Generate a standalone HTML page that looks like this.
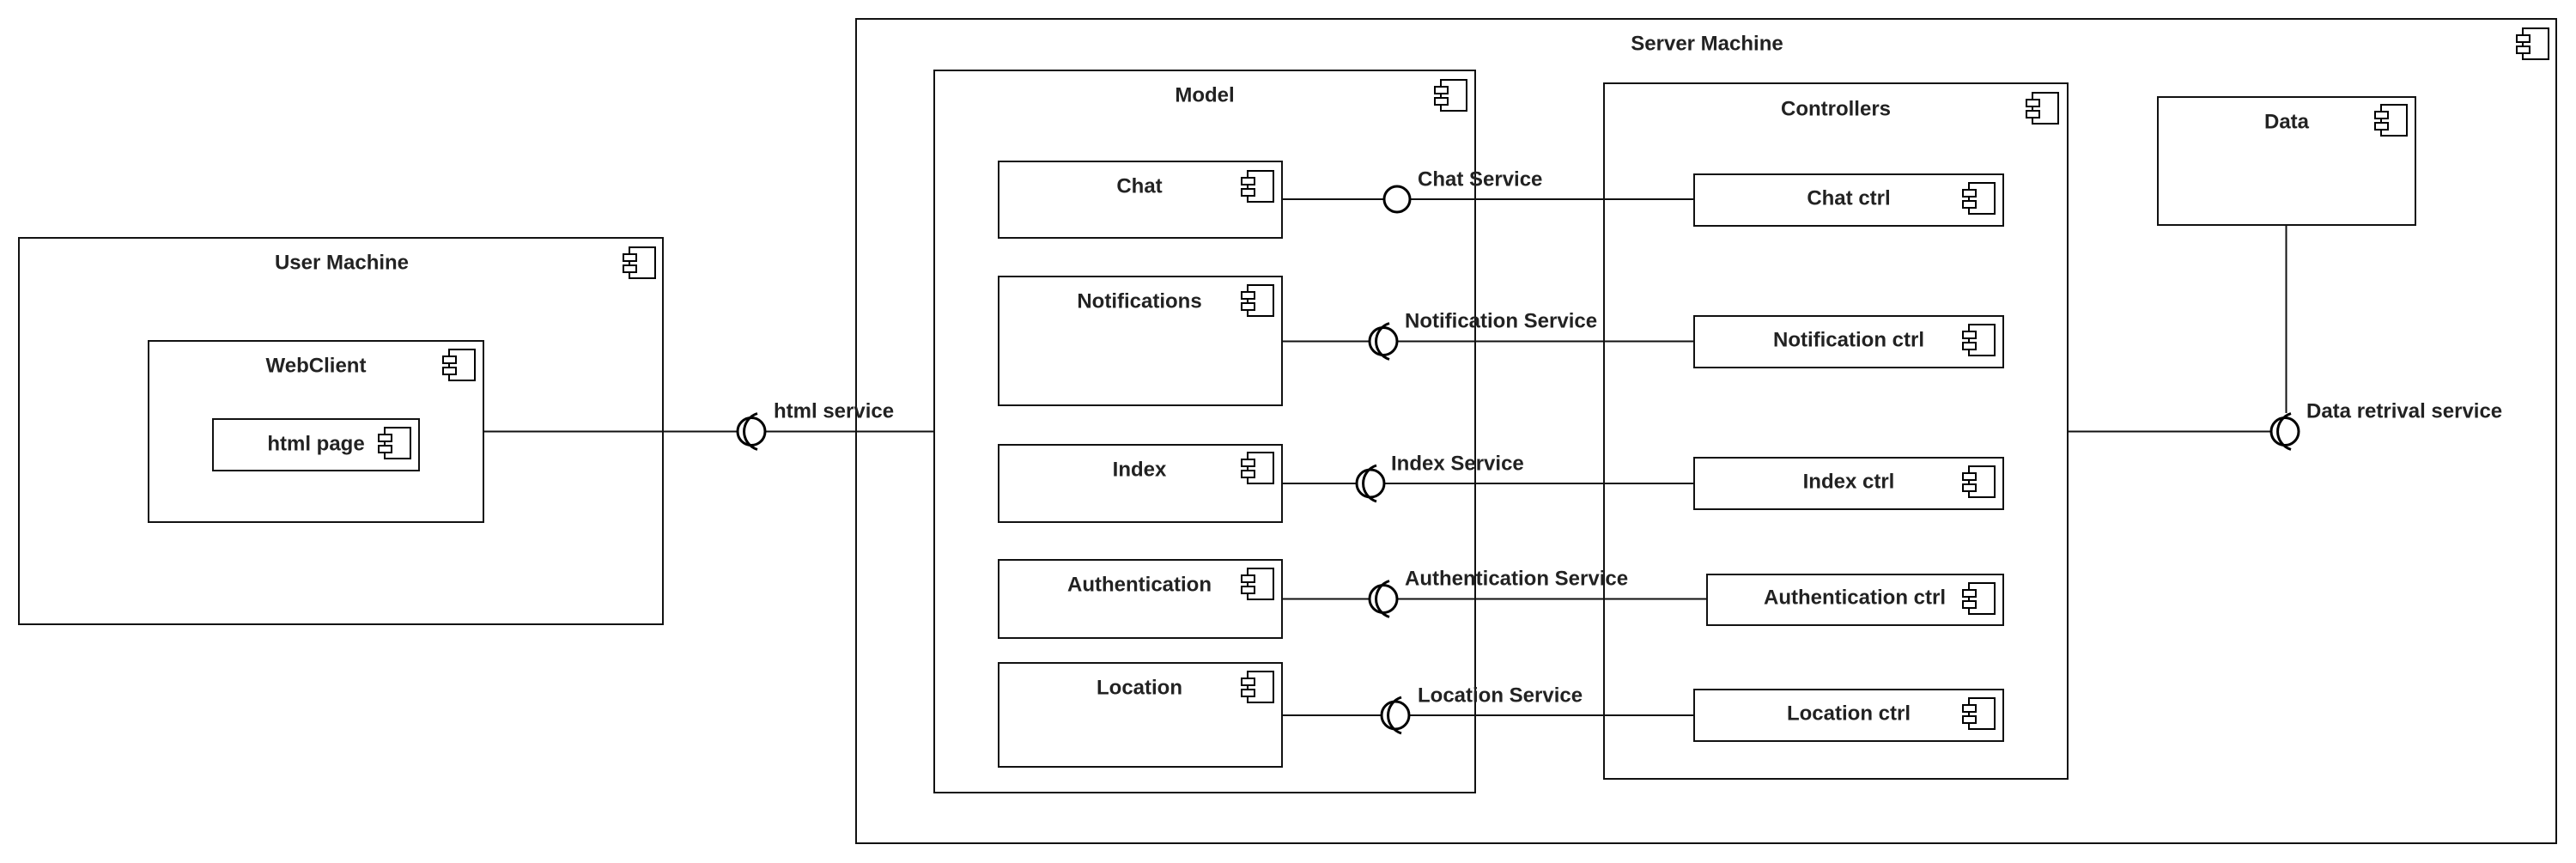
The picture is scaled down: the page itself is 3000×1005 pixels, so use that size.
<!DOCTYPE html>
<html><head><meta charset="utf-8"><style>
html,body{margin:0;padding:0;background:#fff}
svg{display:block}
text{font-family:"Liberation Sans",Arial,sans-serif;font-weight:bold;font-size:24px;fill:#222}
</style></head><body>
<svg width="3000" height="1005" viewBox="0 0 3000 1005" xmlns="http://www.w3.org/2000/svg">
<defs>
<g id="ic" fill="#fff" stroke="#000" stroke-width="2">
<rect x="7" y="0" width="30" height="36"/>
<rect x="0" y="8" width="15" height="8"/>
<rect x="0" y="21" width="15" height="8"/>
</g>
</defs>
<g fill="none" stroke="#111" stroke-width="2">
<!-- boxes -->
<rect x="22" y="277" width="750" height="450"/>
<rect x="173" y="397" width="390" height="211"/>
<rect x="248" y="488" width="240" height="60"/>
<rect x="997" y="22" width="1980" height="960"/>
<rect x="1088" y="82" width="630" height="841"/>
<rect x="1163" y="188" width="330" height="89"/>
<rect x="1163" y="322" width="330" height="150"/>
<rect x="1163" y="518" width="330" height="90"/>
<rect x="1163" y="652" width="330" height="91"/>
<rect x="1163" y="772" width="330" height="121"/>
<rect x="1868" y="97" width="540" height="810"/>
<rect x="1973" y="203" width="360" height="60"/>
<rect x="1973" y="368" width="360" height="60"/>
<rect x="1973" y="533" width="360" height="60"/>
<rect x="1988" y="669" width="345" height="59"/>
<rect x="1973" y="803" width="360" height="60"/>
<rect x="2513" y="113" width="300" height="149"/>
<!-- lines -->
<line x1="563" y1="502.5" x2="858" y2="502.5"/>
<line x1="892" y1="502.5" x2="1088" y2="502.5"/>
<line x1="1493" y1="232" x2="1612" y2="232"/>
<line x1="1642" y1="232" x2="1973" y2="232"/>
<line x1="1493" y1="397.5" x2="1594" y2="397.5"/>
<line x1="1627" y1="397.5" x2="1973" y2="397.5"/>
<line x1="1493" y1="563" x2="1579" y2="563"/>
<line x1="1612" y1="563" x2="1973" y2="563"/>
<line x1="1493" y1="697.5" x2="1594" y2="697.5"/>
<line x1="1627" y1="697.5" x2="1988" y2="697.5"/>
<line x1="1493" y1="833" x2="1608" y2="833"/>
<line x1="1641" y1="833" x2="1973" y2="833"/>
<line x1="2408" y1="502.5" x2="2644" y2="502.5"/>
<line x1="2662.5" y1="262" x2="2662.5" y2="481"/>
</g>
<g fill="none" stroke="#000" stroke-width="3">
<circle cx="1627" cy="232" r="15"/>
<circle cx="875" cy="502.5" r="16"/>
<path d="M 882 481.5 A 22 22 0 0 0 882 523.5"/>
<circle cx="1611" cy="397.5" r="16"/>
<path d="M 1618 376.5 A 22 22 0 0 0 1618 418.5"/>
<circle cx="1596" cy="563" r="16"/>
<path d="M 1603 542 A 22 22 0 0 0 1603 584"/>
<circle cx="1611" cy="697.5" r="16"/>
<path d="M 1618 676.5 A 22 22 0 0 0 1618 718.5"/>
<circle cx="1625" cy="833" r="16"/>
<path d="M 1632 812 A 22 22 0 0 0 1632 854"/>
<circle cx="2661" cy="502.5" r="16"/>
<path d="M 2668 481.5 A 22 22 0 0 0 2668 523.5"/>
</g>
<!-- icons -->
<use href="#ic" x="726" y="288"/>
<use href="#ic" x="516" y="407"/>
<use href="#ic" x="441" y="498"/>
<use href="#ic" x="2931" y="33"/>
<use href="#ic" x="1671" y="93"/>
<use href="#ic" x="1446" y="199"/>
<use href="#ic" x="1446" y="332"/>
<use href="#ic" x="1446" y="527"/>
<use href="#ic" x="1446" y="662"/>
<use href="#ic" x="1446" y="782"/>
<use href="#ic" x="2360" y="108"/>
<use href="#ic" x="2286" y="213"/>
<use href="#ic" x="2286" y="378"/>
<use href="#ic" x="2286" y="543"/>
<use href="#ic" x="2286" y="679"/>
<use href="#ic" x="2286" y="813"/>
<use href="#ic" x="2766" y="122"/>
<!-- titles -->
<g text-anchor="middle" dominant-baseline="central">
<text x="398" y="306">User Machine</text>
<text x="368" y="426">WebClient</text>
<text x="368" y="517">html page</text>
<text x="1988" y="51">Server Machine</text>
<text x="1403" y="111">Model</text>
<text x="1327" y="217">Chat</text>
<text x="1327" y="351">Notifications</text>
<text x="1327" y="547">Index</text>
<text x="1327" y="681">Authentication</text>
<text x="1327" y="801">Location</text>
<text x="2138" y="127">Controllers</text>
<text x="2153" y="231">Chat ctrl</text>
<text x="2153" y="396">Notification ctrl</text>
<text x="2153" y="561">Index ctrl</text>
<text x="2160" y="696">Authentication ctrl</text>
<text x="2153" y="831">Location ctrl</text>
<text x="2663" y="142">Data</text>
</g>
<g dominant-baseline="central">
<text x="901" y="479">html service</text>
<text x="1651" y="209">Chat Service</text>
<text x="1636" y="374">Notification Service</text>
<text x="1620" y="540">Index Service</text>
<text x="1636" y="674">Authentication Service</text>
<text x="1651" y="810">Location Service</text>
<text x="2686" y="479">Data retrival service</text>
</g>
</svg>
</body></html>
